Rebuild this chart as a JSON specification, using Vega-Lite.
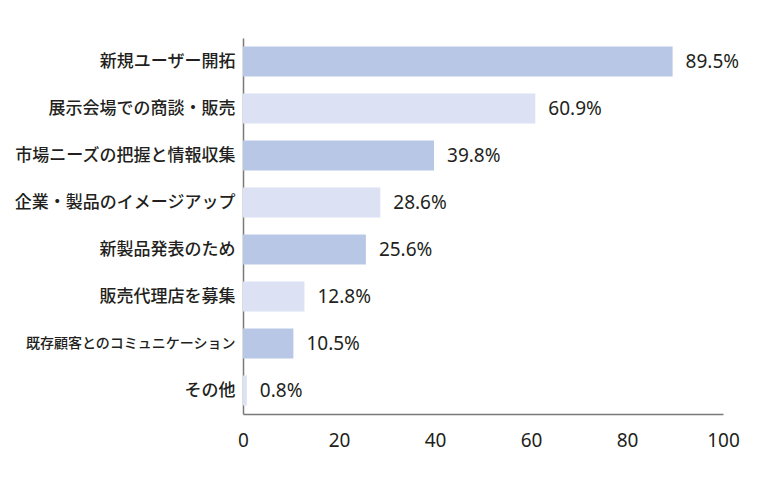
{
  "$schema": "https://vega.github.io/schema/vega-lite/v6.json",
  "autosize": {"type": "none"},
  "width": 480,
  "height": 376,
  "padding": {"left": 243, "top": 38, "right": 45, "bottom": 76},
  "background": "white",
  "config": {
    "view": {"stroke": null},
    "font": "Noto Sans CJK JP",
    "axis": {"labelFont": "Noto Sans CJK JP", "labelColor": "#231f20", "domainColor": "#7a7a7a", "domainWidth": 1.5, "ticks": false, "grid": false, "title": null}
  },
  "data": {
    "values": [
      {"item": "新規ユーザー開拓", "value": 89.5},
      {"item": "展示会場での商談・販売", "value": 60.9},
      {"item": "市場ニーズの把握と情報収集", "value": 39.8},
      {"item": "企業・製品のイメージアップ", "value": 28.6},
      {"item": "新製品発表のため", "value": 25.6},
      {"item": "販売代理店を募集", "value": 12.8},
      {"item": "既存顧客とのコミュニケーション", "value": 10.5},
      {"item": "その他", "value": 0.8}
    ]
  },
  "transform": [
    {"window": [{"op": "row_number", "as": "rank"}]},
    {"calculate": "format(datum.value, '.1f') + '%'", "as": "label"}
  ],
  "encoding": {
    "y": {
      "field": "item", "type": "nominal", "sort": null,
      "scale": {"paddingInner": 0.36, "paddingOuter": 0.18},
      "axis": {
        "labelPadding": 8,
        "labelFontWeight": 500,
        "labelFontSize": {"condition": {"test": "datum.value == '既存顧客とのコミュニケーション'", "value": 14}, "value": 17},
        "labelLimit": 260
      }
    },
    "x": {
      "field": "value", "type": "quantitative",
      "scale": {"domain": [0, 100], "nice": false},
      "axis": {"values": [0, 20, 40, 60, 80, 100], "labelFontSize": 19, "labelPadding": 17, "labelFont": "Noto Sans", "labelFlush": false}
    }
  },
  "layer": [
    {
      "mark": {"type": "bar"},
      "encoding": {
        "color": {
          "condition": {"test": "datum.rank % 2 == 1", "value": "#b9c7e6"},
          "value": "#dce2f3"
        }
      }
    },
    {
      "mark": {"type": "text", "align": "left", "dx": 13, "fontSize": 19, "font": "Noto Sans", "color": "#231f20"},
      "encoding": {"text": {"field": "label"}}
    }
  ]
}
